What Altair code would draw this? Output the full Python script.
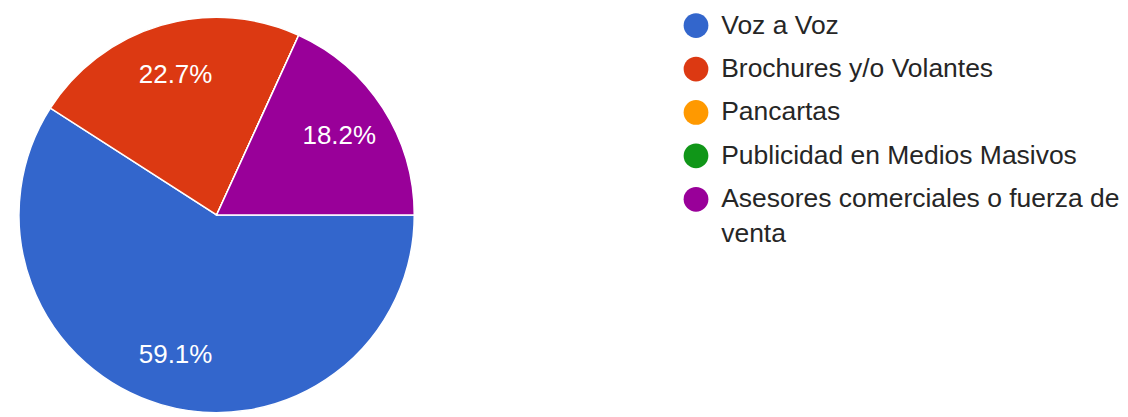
import math
import altair as alt
import pandas as pd

categories = [
    "Voz a Voz",
    "Brochures y/o Volantes",
    "Pancartas",
    "Publicidad en Medios Masivos",
    "Asesores comerciales o fuerza de venta",
]
counts = [13, 5, 0, 0, 4]
colors = ["#3366cc", "#dc3912", "#ff9900", "#109618", "#990099"]

total = sum(counts)
df = pd.DataFrame({
    "cat": categories,
    "n": counts,
    "idx": list(range(len(categories))),
    "pct": [c / total for c in counts],
})

FONT = "Liberation Sans"
start = math.pi / 2

theta = alt.Theta("n:Q", stack=True,
                  scale=alt.Scale(range=[start, start + 2 * math.pi]))
color = alt.Color(
    "cat:N",
    sort=categories,
    scale=alt.Scale(domain=categories, range=colors),
    legend=alt.Legend(
        title=None,
        orient="none",
        legendX=676,
        legendY=4,
        padding=0,
        symbolType="circle",
        symbolSize=615,
        symbolStrokeWidth=0,
        symbolOpacity=1,
        labelFont=FONT,
        labelFontSize=26.5,
        labelColor="#262626",
        labelOffset=12,
        labelLimit=600,
        rowPadding=16.5,
        labelExpr="datum.label == 'Asesores comerciales o fuerza de venta' ? ['Asesores comerciales o fuerza de', 'venta'] : datum.label",
    ),
)

base = alt.Chart(df).encode(theta=theta, order=alt.Order("idx:Q"))

pie = base.mark_arc(stroke="white", strokeWidth=1.5, outerRadius=198).encode(color=color)

labels = base.mark_text(
    radius=146, font=FONT, fontSize=26, color="white"
).encode(text=alt.Text("pct:Q", format=".1%")).transform_filter("datum.n > 0")

chart = (pie + labels).properties(
    width=418, height=414, padding=0
).configure_view(stroke=None).configure(style={"guide-label": {"lineHeight": 35}})

chart.save("out.html", embed_options={"renderer": "svg", "actions": False})
